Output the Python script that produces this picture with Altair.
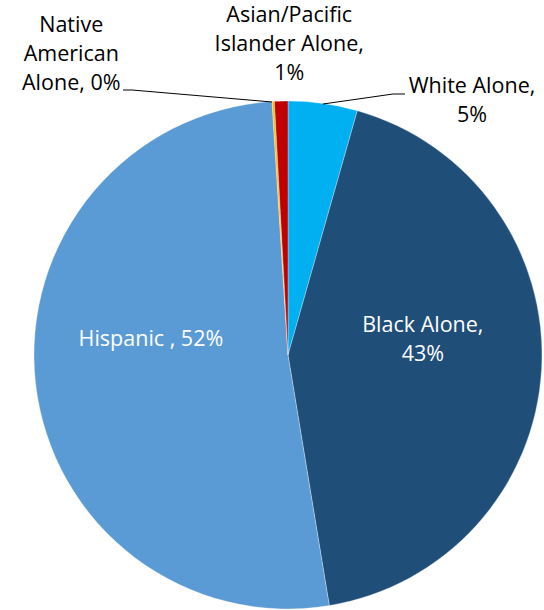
import altair as alt
import pandas as pd

categories = ["White Alone", "Black Alone", "Hispanic", "Native American Alone", "Asian/Pacific Islander Alone"]
values = [4.4, 43.0, 51.6, 0.15, 0.85]
order = [1, 2, 3, 4, 5]
colors = ["#00B0F0", "#1F4E79", "#5B9BD5", "#FFC000", "#C00000"]
labels = [
    ["White Alone,", "5%"],
    ["Black Alone,", "43%"],
    ["Hispanic , 52%"],
    ["Native", "American", "Alone, 0%"],
    ["Asian/Pacific", "Islander Alone,", "1%"],
]

df = pd.DataFrame({"category": categories, "value": values, "order": order, "label": labels})

FONT = "Open Sans"
FS = 21.5
LH = 29
CX, CY, R = 288, 355, 254

theta_scale = alt.Scale(domain=[0, 100])
color_scale = alt.Scale(domain=categories, range=colors)

base = alt.Chart(df)

pie = base.mark_arc(radius=R, stroke="white", strokeWidth=0.3).encode(
    theta=alt.Theta("value:Q", stack=True, scale=theta_scale),
    order=alt.Order("order:Q"),
    color=alt.Color("category:N", scale=color_scale, legend=None),
    x=alt.value(CX),
    y=alt.value(CY),
)

lab_base = base.transform_window(
    cum="sum(value)", sort=[alt.SortField("order")]
).transform_calculate(mid="datum.cum - datum.value / 2")


def label_layer(cat, radius, dx, dy, color):
    return lab_base.transform_filter(alt.datum.category == cat).mark_text(
        radius=radius, dx=dx, dy=dy, font=FONT, fontSize=FS, lineHeight=LH,
        align="center", baseline="middle", color=color,
    ).encode(
        theta=alt.Theta("mid:Q", stack=None, scale=theta_scale),
        text="label",
        x=alt.value(CX),
        y=alt.value(CY),
    )


texts = [
    label_layer("White Alone", R, 149, -16, "black"),
    label_layer("Black Alone", 117, 18, -36, "white"),
    label_layer("Hispanic", 138, 0, -31, "white"),
    label_layer("Native American Alone", R, -202, -75, "black"),
    label_layer("Asian/Pacific Islander Alone", R, 8, -85, "black"),
]

lead_df = pd.DataFrame({"k": [0]})
def seg(x1, y1, x2, y2):
    return alt.Chart(lead_df).mark_rule(color="black", strokeWidth=1).encode(
        x=alt.value(x1), y=alt.value(y1), x2=alt.value(x2), y2=alt.value(y2)
    )

leaders = [
    seg(323, 104, 393, 94), seg(393, 94, 405, 94),
    seg(123, 90, 132, 90), seg(132, 90, 272, 102),
]

chart = alt.layer(pie, *texts, *leaders).properties(
    width=544, height=610, padding=0, autosize=alt.AutoSizeParams(type="none")
).configure_view(stroke=None)

chart.save("out.html", embed_options={"renderer": "svg", "actions": False})
